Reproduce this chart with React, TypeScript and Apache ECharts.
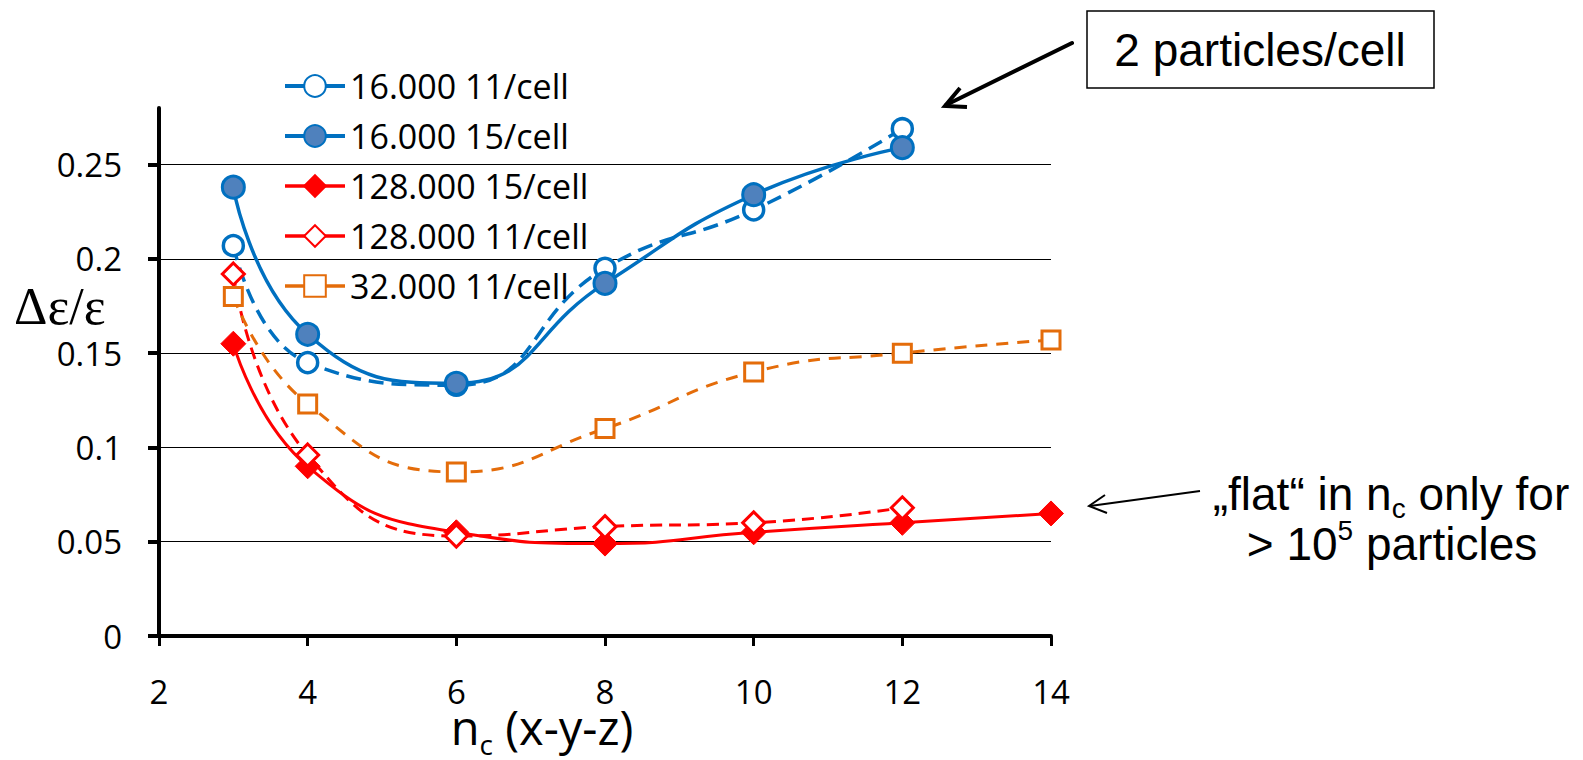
import React, { useEffect, useRef } from 'react';
import * as echarts from 'echarts';

// ---- data ----
const xShort = [3, 4, 6, 8, 10, 12];
const xLong = [3, 4, 6, 8, 10, 12, 14];
const s16k11 = [0.207, 0.145, 0.133, 0.195, 0.226, 0.269];
const s16k15 = [0.238, 0.16, 0.134, 0.187, 0.234, 0.259];
const s128k15 = [0.155, 0.09, 0.055, 0.049, 0.055, 0.06, 0.065];
const s128k11 = [0.192, 0.096, 0.053, 0.058, 0.06, 0.068];
const s32k11 = [0.18, 0.123, 0.087, 0.11, 0.14, 0.15, 0.157];
const seriesNames = ['16.000 11/cell', '16.000 15/cell', '128.000 15/cell', '128.000 11/cell', '32.000 11/cell'];
const yTicks = [0, 0.05, 0.1, 0.15, 0.2, 0.25];
const xTickValues = [2, 4, 6, 8, 10, 12, 14];

const BLUE = '#0070C0';
const BLUE_FILL = '#4F81BD';
const RED = '#FF0000';
const ORANGE = '#E46C0A';
const SANS = "'Open Sans', sans-serif";
const ARIAL = "'Liberation Sans', Arial, sans-serif";
const SERIF = "'Liberation Serif', 'Times New Roman', serif";

const zip = (xs: number[], ys: number[]) => xs.map((x, i) => [x, ys[i]]);

export default function App() {
  const ref = useRef<HTMLDivElement>(null);
  useEffect(() => {
    document.body.style.margin = '0';
    document.body.style.overflow = 'hidden';
    if (!ref.current) return;
    const chart = echarts.init(ref.current, undefined, { renderer: 'svg' });
    const legendWidths = [4, 4, 3.5, 3.5, 3.5];
    const option: any = {
      animation: false,
      backgroundColor: '#fff',
      grid: { left: 159, right: 532, top: 108, bottom: 124, containLabel: false, outerBoundsMode: 'none' },
      legend: {
        orient: 'vertical',
        left: 278,
        top: 64,
        itemWidth: 60,
        itemHeight: 27,
        itemGap: 16,
        data: seriesNames.map((n, i) => ({ name: n, lineStyle: { type: 'solid', width: legendWidths[i] } })),
        textStyle: { fontFamily: SANS, fontSize: 34, color: '#000' },
      },
      xAxis: {
        type: 'value',
        min: xTickValues[0],
        max: xTickValues[xTickValues.length - 1],
        interval: 2,
        axisLine: { show: true, onZero: false, lineStyle: { color: '#000', width: 4 } },
        axisTick: { show: true, length: 10, lineStyle: { color: '#000', width: 3 } },
        axisLabel: { margin: 39, fontFamily: SANS, fontSize: 33, color: '#000' },
        splitLine: { show: false },
      },
      yAxis: {
        type: 'value',
        min: 0,
        max: 0.28,
        interval: 0.05,
        axisLine: { show: true, onZero: false, lineStyle: { color: '#000', width: 4 } },
        axisTick: { show: true, length: 11, customValues: yTicks, lineStyle: { color: '#000', width: 4 } },
        axisLabel: {
          margin: 37,
          customValues: yTicks,
          fontFamily: SANS,
          fontSize: 33,
          color: '#000',
          formatter: (v: number) => (v > 0.26 ? '' : String(Math.round(v * 100) / 100)),
        },
        splitLine: {
          show: true,
          lineStyle: { color: ['#000', '#000', '#000', '#000', '#000', '#000', 'rgba(0,0,0,0)'], width: 1.2 },
        },
      },
      series: [
        {
          name: seriesNames[0],
          type: 'line',
          data: zip(xShort, s16k11),
          smooth: true,
          symbol: 'circle',
          symbolSize: 20,
          lineStyle: { color: BLUE, width: 3.5, type: [15, 8] },
          itemStyle: { color: '#fff', borderColor: BLUE, borderWidth: 3.5 },
          silent: true,
        },
        {
          name: seriesNames[1],
          type: 'line',
          data: zip(xShort, s16k15),
          smooth: true,
          symbol: 'circle',
          symbolSize: 22,
          lineStyle: { color: BLUE, width: 3.5 },
          itemStyle: { color: BLUE_FILL, borderColor: BLUE, borderWidth: 3 },
          silent: true,
        },
        {
          name: seriesNames[2],
          type: 'line',
          data: zip(xLong, s128k15),
          smooth: true,
          symbol: 'diamond',
          symbolSize: 25,
          lineStyle: { color: RED, width: 3 },
          itemStyle: { color: RED, borderColor: RED, borderWidth: 1 },
          silent: true,
        },
        {
          name: seriesNames[3],
          type: 'line',
          data: zip(xShort, s128k11),
          smooth: true,
          symbol: 'diamond',
          symbolSize: 22,
          lineStyle: { color: RED, width: 3, type: [12, 7] },
          itemStyle: { color: '#fff', borderColor: RED, borderWidth: 3 },
          silent: true,
        },
        {
          name: seriesNames[4],
          type: 'line',
          data: zip(xLong, s32k11),
          smooth: true,
          symbol: 'rect',
          symbolSize: 18,
          lineStyle: { color: ORANGE, width: 3, type: [12, 9] },
          itemStyle: { color: '#fff', borderColor: ORANGE, borderWidth: 3 },
          silent: true,
        },
      ],
      graphic: [
        {
          type: 'text',
          x: 14,
          y: 306,
          style: { text: 'Δε/ε', fontFamily: SERIF, fontSize: 52, fill: '#000', align: 'left', verticalAlign: 'middle' },
        },
        {
          type: 'text',
          x: 542,
          y: 727,
          style: {
            text: '{n|n}{c|c}{n| (x-y-z)}',
            align: 'center',
            verticalAlign: 'middle',
            rich: {
              n: { fontFamily: SANS, fontSize: 47, lineHeight: 62, fill: '#000' },
              c: { fontFamily: SANS, fontSize: 28, lineHeight: 28, verticalAlign: 'bottom', fill: '#000' },
            },
          },
        },
        {
          type: 'rect',
          shape: { x: 1087, y: 11, width: 347, height: 77 },
          style: { fill: 'none', stroke: '#000', lineWidth: 1.5 },
        },
        {
          type: 'text',
          x: 1260,
          y: 50,
          style: { text: '2 particles/cell', fontFamily: ARIAL, fontSize: 46, fill: '#000', align: 'center', verticalAlign: 'middle' },
        },
        {
          type: 'line',
          shape: { x1: 1072, y1: 43, x2: 946, y2: 105 },
          style: { stroke: '#000', lineWidth: 4, lineCap: 'round' },
        },
        {
          type: 'polyline',
          shape: { points: [[960, 88], [945, 106], [967, 107]] },
          style: { stroke: '#000', fill: null, lineWidth: 4, lineJoin: 'miter' },
        },
        {
          type: 'line',
          shape: { x1: 1200, y1: 491, x2: 1090, y2: 506 },
          style: { stroke: '#000', lineWidth: 2 },
        },
        {
          type: 'polyline',
          shape: { points: [[1105, 495], [1089, 506], [1107, 513]] },
          style: { stroke: '#000', fill: null, lineWidth: 2 },
        },
        {
          type: 'text',
          x: 1391,
          y: 494,
          style: {
            text: '{a|„flat“ in n}{b|c}{a| only for}',
            align: 'center',
            verticalAlign: 'middle',
            rich: {
              a: { fontFamily: ARIAL, fontSize: 46, lineHeight: 56, fill: '#000' },
              b: { fontFamily: ARIAL, fontSize: 28, lineHeight: 25, verticalAlign: 'bottom', fill: '#000' },
            },
          },
        },
        {
          type: 'text',
          x: 1392,
          y: 544,
          style: {
            text: '{a|> 10}{s|5}{a| particles}',
            align: 'center',
            verticalAlign: 'middle',
            rich: {
              a: { fontFamily: ARIAL, fontSize: 46, lineHeight: 56, fill: '#000' },
              s: { fontFamily: ARIAL, fontSize: 28, lineHeight: 36, verticalAlign: 'top', fill: '#000' },
            },
          },
        },
      ],
    };
    chart.setOption(option);
    return () => chart.dispose();
  }, []);
  return <div ref={ref} style={{ width: 1583, height: 760 }} />;
}
